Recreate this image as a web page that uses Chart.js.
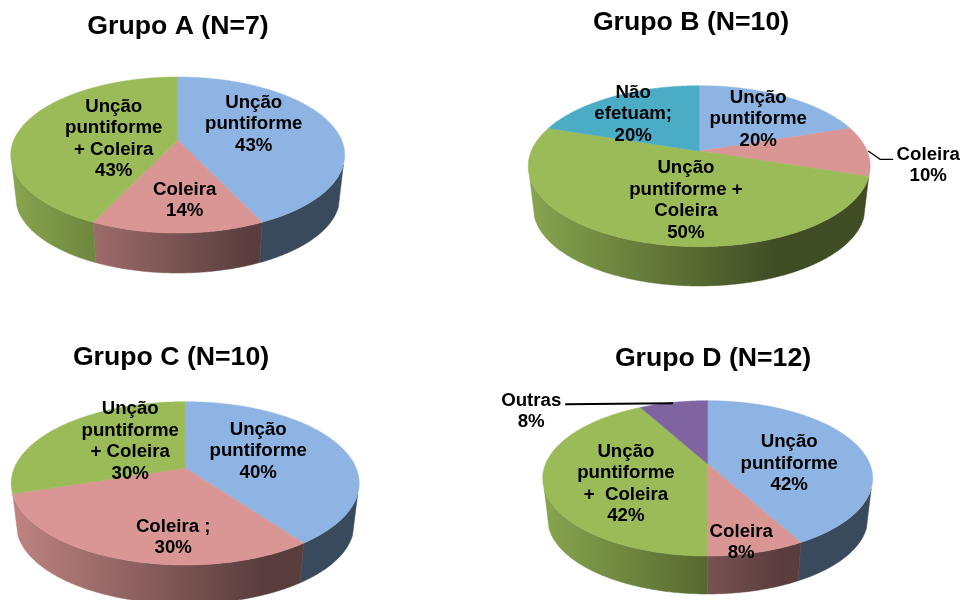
<!DOCTYPE html>
<html lang="pt">
<head>
<meta charset="utf-8">
<title>Grupos A-D</title>
<script src="https://cdn.jsdelivr.net/npm/chart.js@4/dist/chart.umd.min.js"></script>
<style>
  html, body { margin: 0; padding: 0; background: #fff; }
  #page { position: relative; width: 963px; height: 600px; overflow: hidden; background: #fff; }
  #page canvas { position: absolute; top: 0; }
</style>
</head>
<body>
<div id="page"></div>
<script>
// Valores de cada grupo (%), no sentido horário a partir do topo
const titleA = 'Grupo A (N=7)';
const categoriesA = ['Unção puntiforme', 'Coleira', 'Unção puntiforme + Coleira'];
const valuesA = [43, 14, 43];
const linesA = [['Unção', 'puntiforme'], ['Coleira'], ['Unção', 'puntiforme', '+ Coleira']];

const titleB = 'Grupo B (N=10)';
const categoriesB = ['Unção puntiforme', 'Coleira', 'Unção puntiforme + Coleira', 'Não efetuam'];
const valuesB = [20, 10, 50, 20];
const linesB = [['Unção', 'puntiforme'], ['Coleira'], ['Unção', 'puntiforme +', 'Coleira'], ['Não', 'efetuam;']];

const titleC = 'Grupo C (N=10)';
const categoriesC = ['Unção puntiforme', 'Coleira', 'Unção puntiforme + Coleira'];
const valuesC = [40, 30, 30];
const linesC = [['Unção', 'puntiforme'], ['Coleira ;'], ['Unção', 'puntiforme', '+ Coleira']];

const titleD = 'Grupo D (N=12)';
const categoriesD = ['Unção puntiforme', 'Coleira', 'Unção puntiforme + Coleira', 'Outras'];
const valuesD = [42, 8, 42, 8];
const linesD = [['Unção', 'puntiforme'], ['Coleira'], ['Unção', 'puntiforme', '+  Coleira'], ['Outras']];

// Cores das fatias
const BLUE = [142, 180, 227], PINK = [217, 150, 148], GREEN = [155, 187, 89],
      TEAL = [75, 172, 198], PURPLE = [128, 100, 162];
const colorsA = [BLUE, PINK, GREEN];
const colorsB = [BLUE, PINK, GREEN, TEAL];
const colorsC = [BLUE, PINK, GREEN];
const colorsD = [BLUE, PINK, GREEN, PURPLE];

// Layout da página: título, disco em perspectiva, rótulos e linhas de chamada
const layouts = [
  { titleX: 178.3, titleY: 27, cx: 178, apexY: 140, top: 77, bottom: 233, halfW: 167, wallBottom: 273,
    labels: [[254, 124], [185, 200.5], [114, 139]], leaders: [] },
  { titleX: 690.8, titleY: 23, cx: 699, apexY: 151, top: 85.7, bottom: 246.7, halfW: 171, wallBottom: 286,
    labels: [[758, 119], [928, 165.5], [685.7, 200.5], [633, 114]],
    leaders: [{ width: 1.3, pts: [[868, 151], [880, 159.3], [893, 159.3]] }] },
  { titleX: 170.8, titleY: 358, cx: 185, apexY: 468, top: 401.7, bottom: 565, halfW: 174, wallBottom: 604,
    labels: [[258, 451], [173, 537.5], [130, 441.5]], leaders: [] },
  { titleX: 712.8, titleY: 359, cx: 707.5, apexY: 464, top: 400.7, bottom: 556, halfW: 165, wallBottom: 594,
    labels: [[789, 463.5], [741, 542.5], [625.7, 484], [531, 411.5]],
    leaders: [{ width: 2, pts: [[565, 404.3], [673, 403.3]] }] }
];

const FONT = '"Liberation Sans", Arial, sans-serif';
const CANVAS_HALF = 500;          // cada canvas é centrado no seu título
const BASE_SCALE = 0.97;          // o disco inferior fica um pouco mais estreito
const WALL_EDGE = Math.asin(0.31); // a lateral começa logo abaixo da maior largura do disco
const rgb = (c, f = 1) => `rgb(${c.map(v => Math.round(v * f)).join(',')})`;

// Projeção em perspectiva de um ponto do círculo unitário
function projector(g, offsetX) {
  const a = g.apexY - g.top, b = g.bottom - g.apexY;
  const k = (b - a) / (b + a);
  const ry = a * (1 + k);
  const rx = g.halfW * Math.sqrt(1 - k * k);
  const dy = g.wallBottom - g.apexY - b * BASE_SCALE;
  const at = (theta, scale, shift) => {
    const u = Math.cos(theta), v = Math.sin(theta), w = 1 - k * v;
    return [g.cx - offsetX + scale * rx * u / w, g.apexY + shift + scale * ry * v / w];
  };
  return {
    top: t => at(t, 1, 0),
    base: t => at(t, BASE_SCALE, dy),
    centre: [g.cx - offsetX, g.apexY]
  };
}

function sampleAngles(start, end) {
  const n = Math.max(2, Math.ceil((end - start) / 0.01));
  return Array.from({ length: n + 1 }, (_, i) => start + (end - start) * i / n);
}

// Lateral e tampo das fatias, a partir dos ângulos calculados pelo ArcElement
const pie3d = {
  id: 'pie3d',
  beforeDatasetsDraw(chart, args, opts) {
    const { ctx } = chart, g = opts.geometry, off = opts.offsetX;
    const proj = projector(g, off);
    const arcs = chart.getDatasetMeta(0).data;
    const colours = opts.colours;
    const left = g.cx - g.halfW - off, right = g.cx + g.halfW - off;

    ctx.save();
    arcs.forEach((arc, i) => {
      const from = Math.max(arc.startAngle, WALL_EDGE);
      const to = Math.min(arc.endAngle, Math.PI - WALL_EDGE);
      if (to <= from) return;
      const grad = ctx.createLinearGradient(left, 0, right, 0);
      grad.addColorStop(0, rgb(colours[i], 0.88));
      grad.addColorStop(0.72, rgb(colours[i], 0.41));
      grad.addColorStop(1, rgb(colours[i], 0.41));
      const angles = sampleAngles(from, to);
      ctx.beginPath();
      angles.forEach((t, j) => { const p = proj.top(t); j ? ctx.lineTo(p[0], p[1]) : ctx.moveTo(p[0], p[1]); });
      angles.slice().reverse().forEach(t => { const p = proj.base(t); ctx.lineTo(p[0], p[1]); });
      ctx.closePath();
      ctx.fillStyle = grad;
      ctx.strokeStyle = grad;
      ctx.lineWidth = 0.5;
      ctx.fill();
      ctx.stroke();
    });
    arcs.forEach((arc, i) => {
      ctx.beginPath();
      ctx.moveTo(proj.centre[0], proj.centre[1]);
      sampleAngles(arc.startAngle, arc.endAngle).forEach(t => { const p = proj.top(t); ctx.lineTo(p[0], p[1]); });
      ctx.closePath();
      ctx.fillStyle = arc.options.backgroundColor;
      ctx.strokeStyle = arc.options.backgroundColor;
      ctx.lineWidth = 0.5;
      ctx.fill();
      ctx.stroke();
    });
    ctx.restore();
    return false;
  },
  afterDraw(chart, args, opts) {
    const { ctx } = chart, g = opts.geometry, off = opts.offsetX;
    const values = chart.data.datasets[0].data;
    ctx.save();
    g.leaders.forEach(l => {
      ctx.beginPath();
      l.pts.forEach((p, j) => j ? ctx.lineTo(p[0] - off, p[1]) : ctx.moveTo(p[0] - off, p[1]));
      ctx.lineWidth = l.width;
      ctx.strokeStyle = '#000';
      ctx.stroke();
    });
    ctx.fillStyle = '#000';
    ctx.font = `bold 18.67px ${FONT}`;
    ctx.textAlign = 'center';
    ctx.textBaseline = 'middle';
    const pitch = 21.5;
    g.labels.forEach((pos, i) => {
      const lines = [...opts.lines[i], `${values[i]}%`];
      const y0 = pos[1] - (lines.length - 1) * pitch / 2;
      lines.forEach((text, j) => ctx.fillText(text, pos[0] - off, y0 + j * pitch));
    });
    ctx.restore();
  }
};

function drawGroup(g, title, categories, values, lines, colours) {
  const canvas = document.createElement('canvas');
  const offsetX = g.titleX - CANVAS_HALF;
  canvas.width = CANVAS_HALF * 2;
  canvas.height = 600;
  canvas.style.left = offsetX + 'px';
  canvas.style.width = CANVAS_HALF * 2 + 'px';
  canvas.style.height = '600px';
  document.getElementById('page').appendChild(canvas);
  new Chart(canvas, {
    type: 'pie',
    data: {
      labels: categories,
      datasets: [{ data: values, backgroundColor: colours.map(c => rgb(c)), borderWidth: 0 }]
    },
    options: {
      responsive: false,
      animation: false,
      events: [],
      plugins: {
        legend: { display: false },
        tooltip: { enabled: false },
        title: {
          display: true,
          text: title,
          color: '#000',
          align: 'center',
          font: { family: FONT, size: 26.67, weight: 'bold', lineHeight: 1.2 },
          padding: { top: g.titleY - 16, bottom: 10 }
        },
        pie3d: { geometry: g, offsetX, lines, colours }
      }
    },
    plugins: [pie3d]
  });
}

drawGroup(layouts[0], titleA, categoriesA, valuesA, linesA, colorsA);
drawGroup(layouts[1], titleB, categoriesB, valuesB, linesB, colorsB);
drawGroup(layouts[2], titleC, categoriesC, valuesC, linesC, colorsC);
drawGroup(layouts[3], titleD, categoriesD, valuesD, linesD, colorsD);
</script>
</body>
</html>
